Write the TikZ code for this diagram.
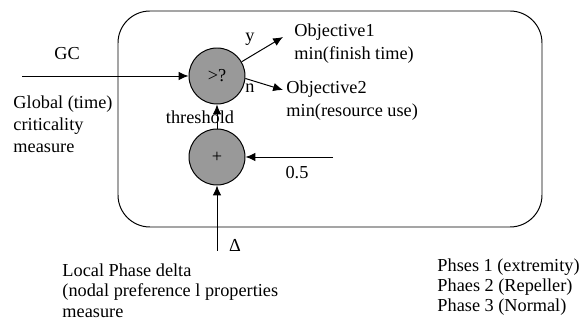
\documentclass[tikz,border=0pt]{standalone}
\usepackage{fontspec}
\setmainfont{Liberation Serif}
\usetikzlibrary{arrows.meta}

\begin{document}
\begin{tikzpicture}[
        every node/.style={font=\fontsize{13}{15.6}\selectfont},
        op/.style={draw, circle, fill=black!40, minimum size=1.4cm, inner sep=0pt},
        txt/.style={align=left, anchor=north west, inner sep=0pt},
        arr/.style={-{Latex[length=7pt,width=6pt]}},
        line width=0.7pt
    ]
        \useasboundingbox (0,0) rectangle (14.6,8);

        % Frame
        \draw[rounded corners=0.8cm] (2.95,2.325) rectangle (13.55,7.725);

        % Compare + sum
        \node[op] (cmp) at (5.425,6.1) {>?};
        \node[op] (sum) at (5.425,4.075) {+};

        % Global criticality input
        \coordinate (gcin) at (0.55,6.1);
        \draw[arr] (gcin) -- (cmp.west);
        \node (gc) at (1.675,6.65) {GC};
        \node[txt] (global) at (0.325,5.625) {Global (time)\\criticality\\measure};

        % Constant input
        \coordinate (halfin) at (8.325,4.075);
        \draw[arr] (halfin) -- (sum.east);
        \node (half) at (7.425,3.675) {0.5};

        % Local phase delta input
        \coordinate (deltain) at (5.425,1.725);
        \draw[arr] (deltain) -- (sum.south);
        \node (delta) at (5.875,1.875) {Δ};
        \node[txt, font=\fontsize{13}{14.6}\selectfont] (local) at (1.55,1.425) {Local Phase delta\\(nodal preference l properties\\measure};

        % Threshold
        \draw[arr] (sum) -- (cmp);
        \node (thr) at (5.0,5.075) {threshold};

        % Outputs
        \coordinate (yout) at (7.075,7.075);
        \coordinate (nout) at (7.075,5.75);
        \draw[arr] (cmp.30) -- (yout);
        \draw[arr] (cmp.-5) -- (nout);
        \node (ylbl) at (6.25,7.025) {y};
        \node (nlbl) at (6.25,5.8) {n};
        \node[txt, font=\fontsize{13}{16.5}\selectfont] (obj1) at (7.35,7.425) {Objective1\\min(finish time)};
        \node[txt, font=\fontsize{13}{16.5}\selectfont] (obj2) at (7.15,6.0) {Objective2\\min(resource use)};

        % Phases
        \node[txt, font=\fontsize{13}{14.2}\selectfont] (phases) at (10.925,1.55) {Phses 1 (extremity)\\Phaes 2 (Repeller)\\Phase 3 (Normal)};
    \end{tikzpicture}
\end{document}
